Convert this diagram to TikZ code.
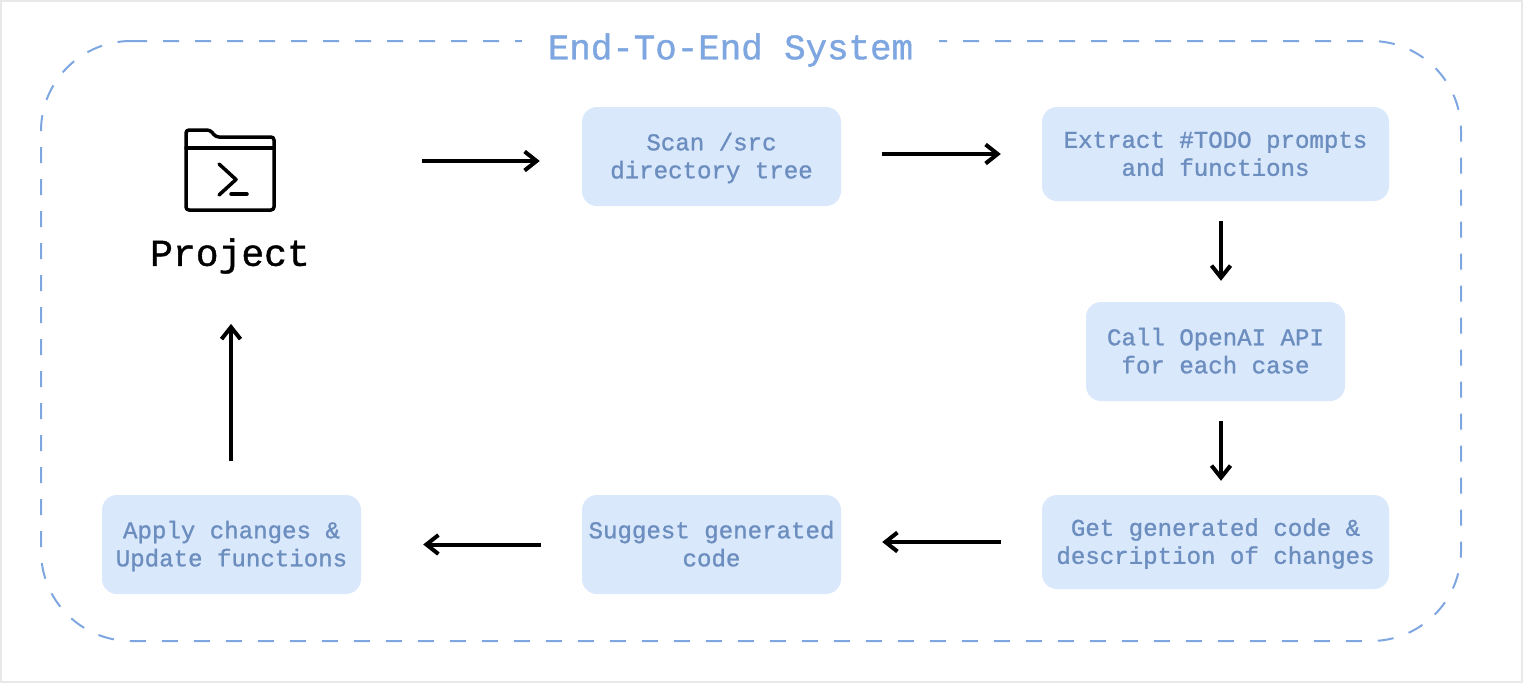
\documentclass[tikz,border=0pt]{standalone}
\usepackage{fontspec}
\setmonofont[RawFeature={embolden=1.1}]{Liberation Mono}
\usetikzlibrary{arrows.meta}
\definecolor{stepfill}{HTML}{DAE8FC}
\definecolor{steptext}{HTML}{6C8EBF}
\definecolor{sysblue}{HTML}{7EA6E0}
\definecolor{edgegray}{HTML}{E8E8E8}
\newcommand\steptop{\rule{0pt}{24pt}}
\tikzset{
    stepbox/.style={fill=stepfill,text=steptext,rounded corners=15pt,align=center,inner sep=0pt,
        font=\ttfamily\fontsize{24.1}{28}\selectfont},
    flow/.style={-{Straight Barb[length=12pt,width=19pt]},line width=4pt,black},
    icon/.style={line width=3.5pt,black,line cap=round,line join=round}
}
\begin{document}
\begin{tikzpicture}[x=1pt,y=-1pt]
\useasboundingbox (0,0) rectangle (1523,683);
\draw[edgegray,line width=2pt] (1,1) rectangle (1522,682);
\draw[sysblue,line width=2pt,dash pattern=on 16pt off 16pt,rounded corners=90pt] (131,41)--(1461,41)--(1461,641)--(41,641)--(41,41)--(131,41);
\node[fill=white,text=sysblue,inner xsep=26pt,inner ysep=4pt,font=\ttfamily\fontsize{35.8}{40}\selectfont] (title) at (730.5,50) {End-To-End System};

% folder
\draw[icon,rounded corners=3pt] (186,148)--(186,130)--(210,130)--(216,137)--(274,137)--(274,210)--(186,210)--cycle;
\draw[icon] (186,148)--(274,148);
\draw[icon] (219,164)--(236,179.5)--(219,195);
\draw[icon] (231,194)--(247,194);
\node[inner sep=0pt,font=\ttfamily\fontsize{38}{40}\selectfont] (project) at (230,256) {Project};

\node[stepbox,minimum width=259pt,minimum height=99pt] (scan) at (711.5,156.5) {\steptop Scan /src\\\strut directory tree};
\node[stepbox,minimum width=347pt,minimum height=94pt] (extract) at (1215.5,154) {\steptop Extract \#TODO prompts\\\strut and functions};
\node[stepbox,minimum width=259pt,minimum height=99pt] (call) at (1215.5,351.5) {\steptop Call OpenAI API\\\strut for each case};
\node[stepbox,minimum width=347pt,minimum height=94pt] (get) at (1215.5,542) {\steptop Get generated code \&\\\strut description of changes};
\node[stepbox,minimum width=259pt,minimum height=99pt] (suggest) at (711.5,544.5) {\steptop Suggest generated\\\strut code};
\node[stepbox,minimum width=259pt,minimum height=99pt] (apply) at (231.5,544.5) {\steptop Apply changes \&\\\strut Update functions};

\coordinate (projectout) at (422,161);
\draw[flow,shorten >=42pt] (projectout)--(projectout -| scan.west);
\draw[flow,shorten <=41pt,shorten >=41pt] (scan.east |- extract.west)--(extract.west);
\draw[flow,shorten <=20pt,shorten >=21pt] ([xshift=5.5pt]extract.south)--([xshift=5.5pt]call.north);
\draw[flow,shorten <=20pt,shorten >=14pt] ([xshift=5.5pt]call.south)--([xshift=5.5pt]get.north);
\draw[flow,shorten <=41pt,shorten >=41pt] (get.west)--(suggest.east |- get.west);
\draw[flow,shorten <=41pt,shorten >=62pt] (suggest.west)--(apply.east);
\draw[flow,shorten <=34pt,shorten >=50pt] ([xshift=-0.5pt]apply.north)--([xshift=-0.5pt]apply.north |- project.south);
\end{tikzpicture}
\end{document}
